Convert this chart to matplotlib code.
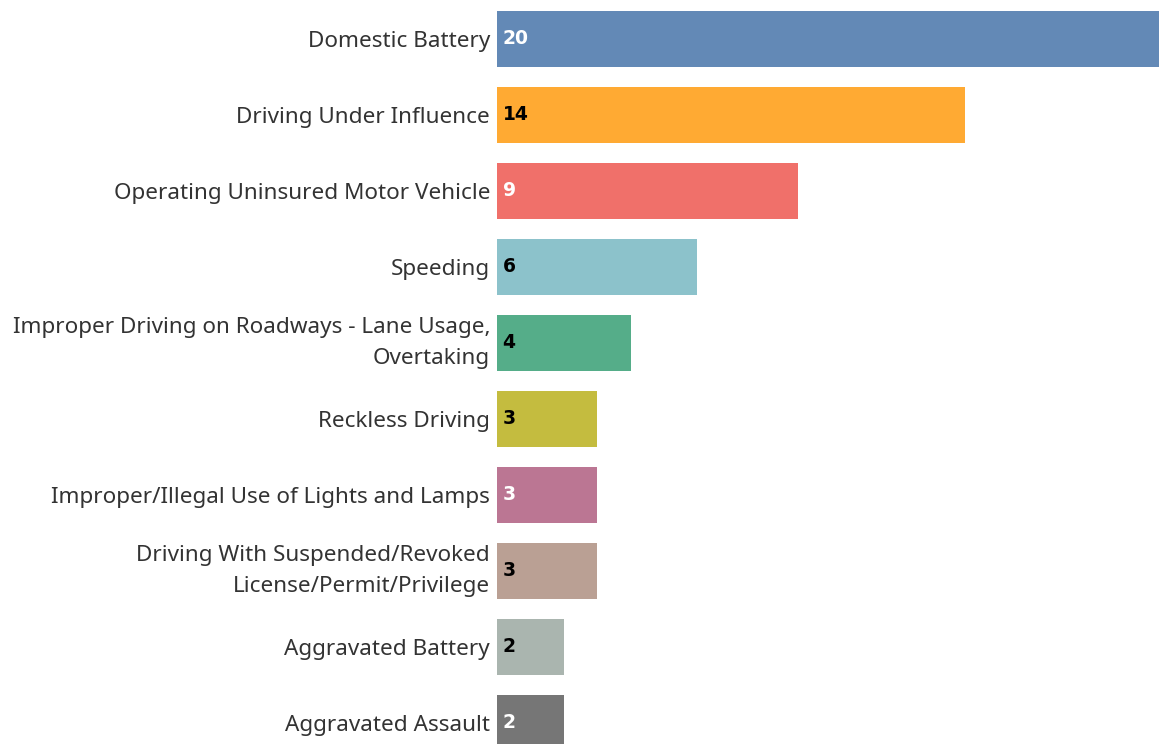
import matplotlib
matplotlib.use('Agg')
import matplotlib.pyplot as plt

#+++++++++++++++++++++++++++++++++++++++++++++++++++++++++++++++++++++++++++++#

CATEGORIES = [
  'Domestic Battery',
  'Driving Under Influence',
  'Operating Uninsured Motor Vehicle',
  'Speeding',
  'Improper Driving on Roadways - Lane Usage,\nOvertaking',
  'Reckless Driving',
  'Improper/Illegal Use of Lights and Lamps',
  'Driving With Suspended/Revoked\nLicense/Permit/Privilege',
  'Aggravated Battery',
  'Aggravated Assault',
]
COUNTS = [20, 14, 9, 6, 4, 3, 3, 3, 2, 2]

COLORS = [
  '#6389b6', '#ffaa33', '#f0706a', '#8cc2cb', '#55ad89',
  '#c4bc3f', '#bb7693', '#baa094', '#aab5af', '#767676',
]
LABEL_COLORS = ['white', 'black', 'white', 'black', 'black',
                'black', 'white', 'black', 'black', 'white']

plt.rcParams['font.family'] = ['Noto Sans', 'DejaVu Sans']

#+++++++++++++++++++++++++++++++++++++++++++++++++++++++++++++++++++++++++++++#

fig = plt.figure(figsize = (11.59, 7.44), dpi = 100)
ax = fig.add_axes([497 / 1159, 0, 1 - 497 / 1159, 1])

ypos = list(range(len(CATEGORIES)))
ax.barh(ypos, COUNTS, height = 0.737, color = COLORS)

for y, v, c in zip(ypos, COUNTS, LABEL_COLORS):
  ax.annotate(str(v), (0, y), xytext = (4, 0), textcoords = 'offset points',
              ha = 'left', va = 'center', fontsize = 13.5, fontweight = 'bold',
              family = 'DejaVu Sans', color = c)

ax.set_yticks(ypos)
ax.set_yticklabels(CATEGORIES, fontsize = 16.2, color = '#333333',
                   ha = 'right', linespacing = 1.6)
for lbl in ax.get_yticklabels():
  if '\n' in lbl.get_text():
    lbl.set_verticalalignment('center')
ax.tick_params(axis = 'y', length = 0, pad = 5)
ax.set_xticks([])
ax.set_xlim(0, (1159 - 497) / 33.4)
ax.set_ylim((744 - 39) / 76, -39 / 76)
for s in ax.spines.values():
  s.set_visible(False)

plt.savefig('out.png', dpi = 100)
